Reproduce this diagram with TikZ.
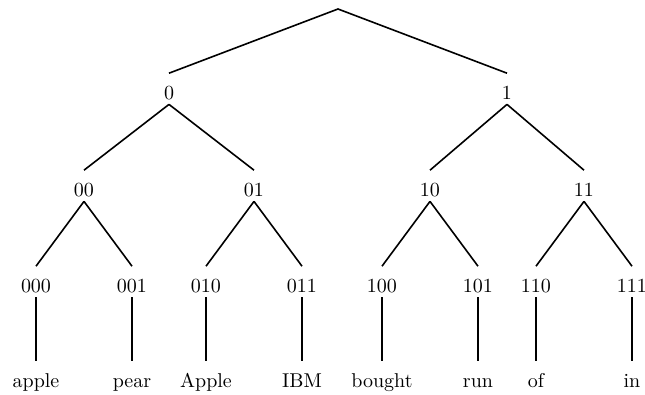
\documentclass[tikz,border=0pt]{standalone}
\usepackage{tikz}

\begin{document}
\begin{tikzpicture}[x=0.5pt,y=-0.5pt,
    word/.style={anchor=base,inner sep=0pt,text height=13.2pt,text depth=2pt},
    branch/.style={line width=0.8pt}]
      \useasboundingbox (0,0) rectangle (645,395);

      %% root
      \coordinate (r) at (338,9);

      %% level 1
      \node[word] (n0) at (169,100) {0};
      \node[word] (n1) at (507,100) {1};

      %% level 2
      \node[word] (n00) at (84,197) {00};
      \node[word] (n01) at (254,197) {01};
      \node[word] (n10) at (430,197) {10};
      \node[word] (n11) at (584,197) {11};

      %% level 3
      \node[word] (n000) at (36,293) {000};
      \node[word] (n001) at (132,293) {001};
      \node[word] (n010) at (206,293) {010};
      \node[word] (n011) at (302,293) {011};
      \node[word] (n100) at (382,293) {100};
      \node[word] (n101) at (478,293) {101};
      \node[word] (n110) at (536,293) {110};
      \node[word] (n111) at (632,293) {111};

      %% words
      \node[word] (w000) at (36,388) {apple};
      \node[word] (w001) at (132,388) {pear};
      \node[word] (w010) at (206,388) {Apple};
      \node[word] (w011) at (302,388) {IBM};
      \node[word] (w100) at (382,388) {bought};
      \node[word] (w101) at (478,388) {run};
      \node[word] (w110) at (536,388) {of};
      \node[word] (w111) at (632,388) {in};

      %% edges
      % root
      \draw[branch] (n0.north) -- (r) -- (n1.north);

      % level 1 -> level 2
      \draw[branch] (n0.south) -- (n00.north);
      \draw[branch] (n0.south) -- (n01.north);
      \draw[branch] (n1.south) -- (n10.north);
      \draw[branch] (n1.south) -- (n11.north);

      % level 2 -> level 3
      \draw[branch] (n00.south) -- (n000.north);
      \draw[branch] (n00.south) -- (n001.north);
      \draw[branch] (n01.south) -- (n010.north);
      \draw[branch] (n01.south) -- (n011.north);
      \draw[branch] (n10.south) -- (n100.north);
      \draw[branch] (n10.south) -- (n101.north);
      \draw[branch] (n11.south) -- (n110.north);
      \draw[branch] (n11.south) -- (n111.north);

      % level 3 -> words
      \foreach \c in {000,001,010,011,100,101,110,111}
        \draw[branch] (n\c.south) -- (w\c.north);

   \end{tikzpicture}
\end{document}
